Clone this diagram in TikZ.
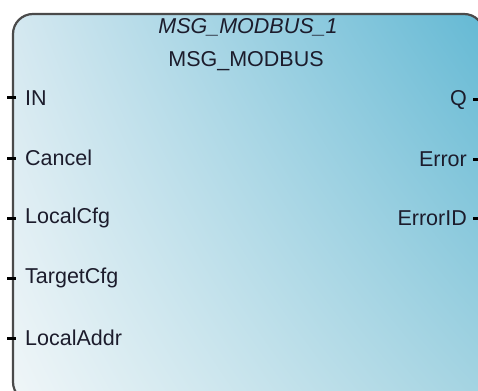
\documentclass[tikz,border=0pt]{standalone}
\usepackage{fontspec}
\setmainfont{Liberation Sans}
\usepackage{xcolor}
\usetikzlibrary{positioning, calc, shadings}
\definecolor{C_EDGE}{HTML}{4A4A4A}
\definecolor{C_TXT} {HTML}{1C1C2C}
\definecolor{C_UL}  {HTML}{D4E8F0}
\definecolor{C_UR}  {HTML}{64B9D4}
\definecolor{C_LL}  {HTML}{F0F6F8}
\definecolor{C_LR}  {HTML}{A5D4E2}

\begin{document}
\begin{tikzpicture}[
  x=1pt, y=-1pt,
  every node/.style={font=\fontsize{21.5}{21.5}\selectfont, text=C_TXT, inner sep=0pt},
  block/.style={draw=C_EDGE, line width=2.2pt, rounded corners=20pt,
                upper left=C_UL, upper right=C_UR,
                lower left=C_LL, lower right=C_LR},
  inpin/.style={anchor=west},
  outpin/.style={anchor=east},
  tick/.style={line width=3pt, black},
]
\useasboundingbox (0,0) rectangle (478,390);

%% function block body
\path[block] (13,14) rectangle (484,402);

%% instance and type names
\node (inst) at (248,27) {\itshape MSG\_MODBUS\_1};
\node (type) at (246,61) {MSG\_MODBUS};

%% inputs
\node[inpin] (in)     at (25,98)  {IN};
\node[inpin] (cancel) at (25,158) {Cancel};
\node[inpin] (lcfg)   at (25,218) {LocalCfg};
\node[inpin] (tcfg)   at (25,278) {TargetCfg};
\node[inpin] (laddr)  at (25,338) {LocalAddr};

%% outputs
\node[outpin] (q)     at (467,100) {Q};
\node[outpin] (err)   at (467,159) {Error};
\node[outpin] (errid) at (467,218) {ErrorID};

%% pin ticks
\foreach \p in {in, cancel, lcfg, tcfg, laddr}
  \draw[tick] ([xshift=-18pt]\p.west) -- ([xshift=-9pt]\p.west);
\foreach \p in {q, err, errid}
  \draw[tick] ([xshift=6pt]\p.east) -- ([xshift=12pt]\p.east);

\end{tikzpicture}
\end{document}
